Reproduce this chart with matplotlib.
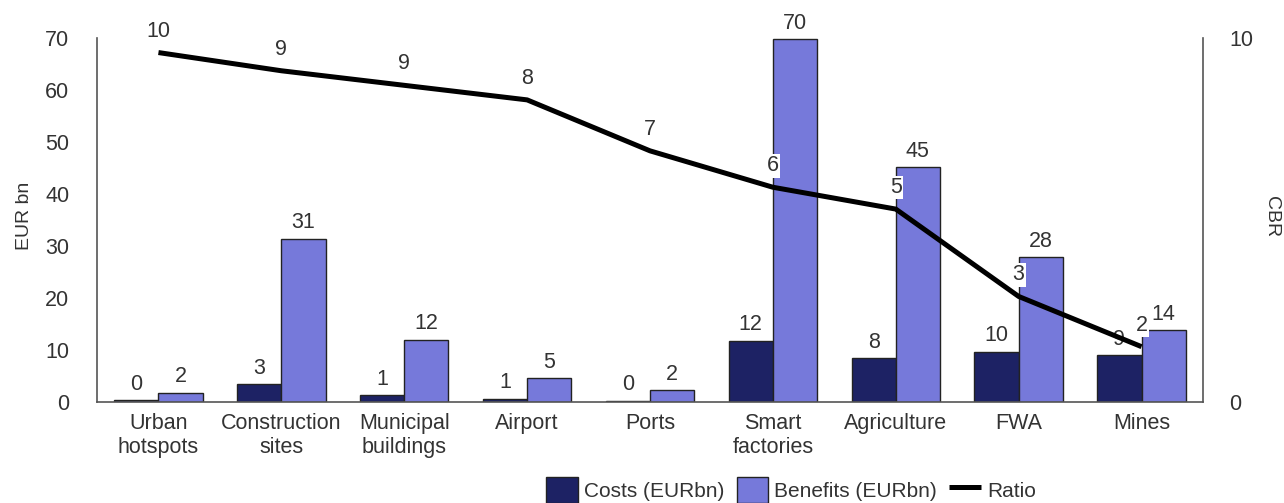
import numpy as np
import matplotlib.pyplot as plt

plt.rcParams['font.family'] = ['Liberation Sans', 'DejaVu Sans']
plt.rcParams['font.size'] = 15.5
plt.rcParams['text.color'] = '#333333'
plt.rcParams['axes.labelcolor'] = '#333333'
plt.rcParams['xtick.color'] = '#333333'
plt.rcParams['ytick.color'] = '#333333'

# use cases and their cost / benefit figures (EUR bn) plus cost-benefit ratio
categories = ['Urban\nhotspots', 'Construction\nsites', 'Municipal\nbuildings', 'Airport',
              'Ports', 'Smart\nfactories', 'Agriculture', 'FWA', 'Mines']
costs = [0.3, 3.4, 1.3, 0.6, 0.2, 11.8, 8.4, 9.7, 9.0]
benefits = [1.8, 31.4, 12.0, 4.6, 2.3, 69.8, 45.1, 27.8, 13.8]
ratio = [9.6, 9.1, 8.7, 8.3, 6.9, 5.9, 5.3, 2.9, 1.52]

navy = '#1d2264'
lilac = '#7679da'

fig = plt.figure(figsize=(12.84, 5.03), dpi=100)
ax = fig.add_axes([97 / 1284, 1 - 402 / 503, (1203 - 97) / 1284, (402 - 38) / 503])
ax2 = ax.twinx()

x = np.arange(len(categories))
w = 0.36
b1 = ax.bar(x - w / 2, costs, w, color=navy, edgecolor='#222222', linewidth=1,
            label='Costs (EURbn)', zorder=2)
b2 = ax.bar(x + w / 2, benefits, w, color=lilac, edgecolor='#222222', linewidth=1,
            label='Benefits (EURbn)', zorder=2)

box = dict(facecolor='white', edgecolor='none', pad=1)
for xi, v in zip(x - w / 2, costs):
    ax.annotate(f'{v:.0f}', (xi, v), xytext=(0, 11.5), textcoords='offset points',
                ha='center', va='center', bbox=box, zorder=5)
for xi, v in zip(x + w / 2, benefits):
    ax.annotate(f'{v:.0f}', (xi, v), xytext=(0, 11.5), textcoords='offset points',
                ha='center', va='center', bbox=box, zorder=5)

line, = ax2.plot(x, ratio, color='black', linewidth=3.6, solid_capstyle='butt', label='Ratio', zorder=3)
for xi, v in zip(x, ratio):
    ax2.annotate(f'{v:.0f}', (xi, v), xytext=(0, 15.5), textcoords='offset points',
                 ha='center', va='center', bbox=box, zorder=6)

ax.set_xlim(-0.5, 8.5)
ax.set_ylim(0, 70)
ax2.set_ylim(0, 10)
ax.set_yticks(range(0, 71, 10))
ax2.set_yticks([0, 10])
ax.set_xticks(x)
ax.set_xticklabels(categories, linespacing=1.2)

for a in (ax, ax2):
    a.spines['top'].set_visible(False)
    for s in a.spines.values():
        s.set_color('#555555')
        s.set_linewidth(1.2)
ax.spines['right'].set_visible(False)
ax2.spines['left'].set_visible(False)
ax2.spines['bottom'].set_visible(False)

ax.tick_params(axis='y', length=0, pad=20)
ax.tick_params(axis='x', length=0, pad=8)
ax2.tick_params(axis='y', length=0, pad=19)

ax.set_ylabel('EUR bn', fontsize=14)
ax.yaxis.set_label_coords(-0.058, 0.51)
ax2.set_ylabel('CBR', fontsize=14, rotation=-90, va='center')
ax2.yaxis.set_label_coords(1.062, 0.51)

fig.legend([b1, b2, line], ['Costs (EURbn)', 'Benefits (EURbn)', 'Ratio'],
           loc='center', bbox_to_anchor=(791 / 1284, 1 - 490 / 503), ncol=3,
           frameon=False, handlelength=1.5, handleheight=1.5, handletextpad=0.3,
           columnspacing=0.6, fontsize=15)

fig.savefig('out.png', dpi=100)
